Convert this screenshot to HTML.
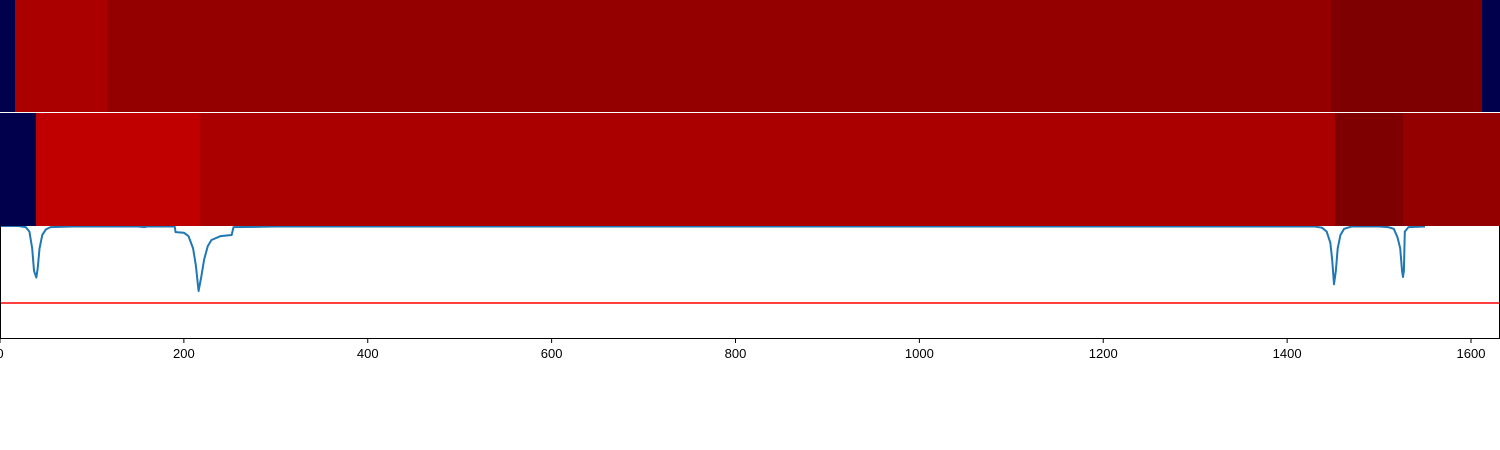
<!DOCTYPE html>
<html><head><meta charset="utf-8"><style>
html,body{margin:0;padding:0;background:#fff;width:1500px;height:450px;overflow:hidden}
text{font-family:"Liberation Sans","DejaVu Sans",sans-serif}
</style></head><body>
<svg id="chart" width="1500" height="450">
<g id="lineLayer"></g>
<g id="heatLayer" shape-rendering="crispEdges"></g>
<g id="axisLayer"></g>
</svg>
<script>
const xTicks=[0,200,400,600,800,1000,1200,1400,1600];
const row1Edges=[0,16.3,116.4,1447.5,1612,1632];
const row1Vals=[0,0.6,0.5,0.4,0];
const row2Edges=[0,39.2,217.5,1452,1526,1632];
const row2Vals=[0,0.7,0.6,0.4,0.5];
const lineX=[0,20,28,32,35,37,39.5,41,43,46,50,55,80,150,157,160,190,191,200,205,210,213,216,219,222,226,230,240,252,254,300,1430,1438,1443,1447,1449,1451,1453,1455,1458,1462,1470,1500,1510,1516,1520,1523,1525,1526,1527,1528,1532,1550];
const lineY=[1.0,1.0,0.99,0.95,0.8,0.6,0.54,0.62,0.8,0.92,0.97,0.99,0.995,0.995,0.99,0.995,0.995,0.945,0.94,0.91,0.8,0.65,0.42,0.55,0.7,0.82,0.875,0.91,0.92,0.99,0.995,0.995,0.985,0.95,0.85,0.7,0.48,0.6,0.8,0.92,0.975,0.995,0.995,0.99,0.975,0.9,0.8,0.6,0.545,0.6,0.95,0.99,0.995];
const threshold=[0.3125];

const NS='http://www.w3.org/2000/svg';
const xs=v=>v*1471/1600;
const ys=v=>338-v*112;
function colorOf(v){
  if(v<=0) return '#00004c';
  const stops={0.4:'#7f0000',0.5:'#940000',0.6:'#aa0000',0.7:'#c00000'};
  return stops[v]||'#940000';
}
function mk(tag,attrs,parent){const e=document.createElementNS(NS,tag);for(const k in attrs)e.setAttribute(k,attrs[k]);parent.appendChild(e);return e;}
const lineLayer=document.getElementById('lineLayer');
const heatLayer=document.getElementById('heatLayer');
const axisLayer=document.getElementById('axisLayer');

let d='';
lineX.forEach((x,i)=>{d+=(i?'L':'M')+xs(x).toFixed(2)+','+ys(lineY[i]).toFixed(2);});
const pl=mk('path',{d:d,fill:'none',stroke:'#1f77b4','stroke-width':2,'stroke-linejoin':'round'},lineLayer);


const th=mk('line',{x1:0,x2:1500,y1:ys(threshold[0]),y2:ys(threshold[0]),stroke:'#ff0000','stroke-width':1.6},lineLayer);



function drawRow(edges,vals,y0,h,name){
  for(let i=0;i<vals.length;i++){
    const x1=Math.round(xs(edges[i])),x2=Math.min(1500,Math.round(xs(edges[i+1])));
    const r=mk('rect',{x:x1,y:y0,width:x2-x1,height:h,fill:colorOf(vals[i])},heatLayer);
    
    
  }
}
drawRow(row1Edges,row1Vals,0,112,'heatmap-row-1');
drawRow(row2Edges,row2Vals,113,113,'heatmap-row-2');

const ax=mk('path',{d:'M0.5,226 L0.5,338.5 L1499.5,338.5 L1499.5,226',fill:'none',stroke:'#000','stroke-width':1},axisLayer);


xTicks.forEach(t=>{
  const x=xs(t);
  const tk=mk('line',{x1:x,x2:x,y1:338,y2:343,stroke:'#000','stroke-width':1},axisLayer);
  
  
  const tx=mk('text',{x:x,y:358,'text-anchor':'middle','font-size':13,fill:'#000'},axisLayer);
  tx.textContent=t;
  
  
});
</script>
</body></html>
